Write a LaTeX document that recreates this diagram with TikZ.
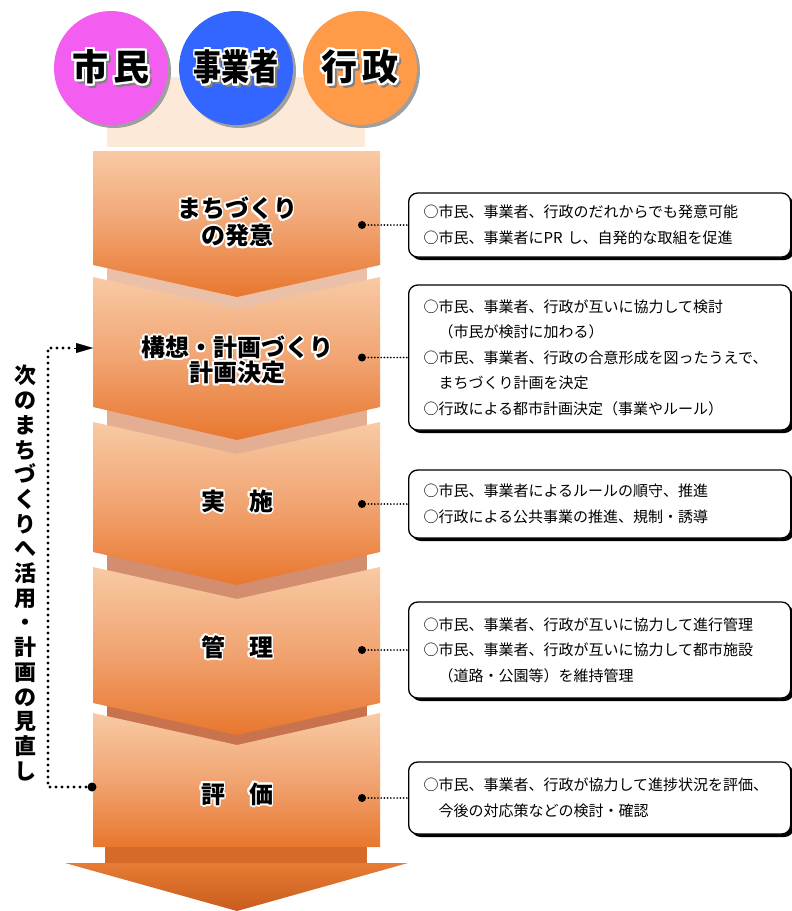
\documentclass[tikz,border=0pt]{standalone}
\usepackage{fontspec}
\newfontfamily\cjk{Noto Sans CJK JP}
\usepackage{contour}
\usetikzlibrary{shadows,arrows.meta}
\definecolor{bandpale}{HTML}{FCE9D8}
\definecolor{blocktop}{HTML}{F8CAA4}
\definecolor{blockmid}{HTML}{F1A472}
\definecolor{blockbot}{HTML}{E8772E}
\definecolor{gapA}{HTML}{EBC0A8}
\definecolor{gapB}{HTML}{E3AE92}
\definecolor{gapC}{HTML}{D28E6E}
\definecolor{gapD}{HTML}{C9734E}
\definecolor{cpink}{HTML}{F35EF0}
\definecolor{cblue}{HTML}{3366FF}
\definecolor{corange}{HTML}{FF9A48}
\definecolor{arrowtop}{HTML}{E67C34}
\definecolor{arrowbot}{HTML}{C95C1C}
\definecolor{shaftc}{HTML}{D66A28}
\tikzset{
  chev/.style={top color=blocktop, bottom color=blockbot, middle color=blockmid},
  roundc/.style={circle, minimum size=114pt, inner sep=0pt},
  ctext/.style={font=\cjk\bfseries\fontsize{36}{40}\selectfont, inner sep=0pt},
  btext/.style={font=\cjk\bfseries\fontsize{24}{27}\selectfont, align=center, inner sep=0pt},
  infobox/.style={draw=black, line width=1.3pt, rounded corners=9pt, fill=white,
    anchor=west, minimum width=382pt, text width=352pt, align=left, inner xsep=15pt,
    font=\cjk\fontsize{15}{25.5}\selectfont,
    drop shadow={shadow xshift=3pt, shadow yshift=-3pt, fill=black, opacity=1}},
  pdot/.style={circle, fill=black, minimum size=8pt, inner sep=0pt},
  fine/.style={line width=1.9pt, dash pattern=on 0pt off 3.2pt, line cap=round},
  loopline/.style={line width=3.3pt, dash pattern=on 0pt off 6pt, line cap=round}
}
\begin{document}
\begin{tikzpicture}[x=1pt,y=-1pt]
\useasboundingbox (0,0) rectangle (792,911);
% pale band behind circles
\fill[bandpale] (107,77) rectangle (365,147);
% circles
\foreach \cx/\cc/\nm in {111/cpink/cA,236/cblue/cB,360/corange/cC}{
  \fill[gray!75] (\cx+3,71) circle (57);
  \node[roundc, fill=\cc] (\nm) at (\cx,68) {};
}
\node[ctext, text=gray] (sA) at (113.5,70.5) {\contour{gray}{市\kern5pt 民}};
\node[ctext] (lA) at (111,68) {\contourlength{2.4pt}\contour{white}{市\kern5pt 民}};
\node[ctext, text=gray, xscale=0.78] (sB) at (238.5,70.5) {\contour{gray}{事業者}};
\node[ctext, xscale=0.78] (lB) at (236,68) {\contourlength{2.4pt}\contour{white}{事業者}};
\node[ctext, text=gray] (sC) at (362.5,70.5) {\contour{gray}{行\kern5pt 政}};
\node[ctext] (lC) at (360,68) {\contourlength{2.4pt}\contour{white}{行\kern5pt 政}};
% gaps
\fill[gapA] (107,262) rectangle (367,312);
\fill[gapB] (107,404) rectangle (367,457);
\fill[gapC] (107,549) rectangle (367,602);
\fill[gapD] (107,700) rectangle (367,748);
% arrow
\fill[shaftc] (105,840) rectangle (367,866);
\path[top color=arrowtop, bottom color=arrowbot] (65,863) -- (408,863) -- (237,911) -- cycle;
% blocks
\path[chev] (93,151) -- (380,151) -- (380,265) -- (237,297) -- (93,265) -- cycle;
\path[chev] (93,277) -- (237,309) -- (380,277) -- (380,407) -- (237,440) -- (93,407) -- cycle;
\path[chev] (93,422) -- (237,454) -- (380,422) -- (380,552) -- (237,585) -- (93,552) -- cycle;
\path[chev] (93,567) -- (237,599) -- (380,567) -- (380,703) -- (237,735) -- (93,703) -- cycle;
\path[chev] (93,713) -- (237,745) -- (380,713) -- (380,847) -- (93,847) -- cycle;
% block labels
\contourlength{1.8pt}
\node[btext] (t1) at (237,223) {\contour{white}{まちづくり}\\\contour{white}{の発意}};
\node[btext, font=\cjk\bfseries\fontsize{24}{25}\selectfont] (t2) at (237,361) {\contour{white}{構想・計画づくり}\\\contour{white}{計画決定}};
\node[btext] (t3) at (237,502) {\contour{white}{実　施}};
\node[btext] (t4) at (237,648) {\contour{white}{管　理}};
\node[btext] (t5) at (237,795) {\contour{white}{評　価}};
% info boxes
\node[infobox, minimum height=64pt] (b1) at (408,225) {○市民、事業者、行政のだれからでも発意可能\\○市民、事業者にPR し、自発的な取組を促進};
\node[infobox, minimum height=145pt] (b2) at (408,357.5) {○市民、事業者、行政が互いに協力して検討\\　（市民が検討に加わる）\\○市民、事業者、行政の合意形成を図ったうえで、\\　まちづくり計画を決定\\○行政による都市計画決定（事業やルール）};
\node[infobox, minimum height=68pt] (b3) at (408,504) {○市民、事業者によるルールの順守、推進\\○行政による公共事業の推進、規制・誘導};
\node[infobox, minimum height=96pt] (b4) at (408,650) {○市民、事業者、行政が互いに協力して進行管理\\○市民、事業者、行政が互いに協力して都市施設\\　（道路・公園等）を維持管理};
\node[infobox, minimum height=72pt] (b5) at (408,798) {○市民、事業者、行政が協力して進捗状況を評価、\\　今後の対応策などの検討・確認};
% dots and connectors
\node[pdot] (d1) at (362,225) {};
\node[pdot] (d2) at (362,357.5) {};
\node[pdot] (d3) at (362,504) {};
\node[pdot] (d4) at (362,650) {};
\node[pdot] (d5) at (362,798) {};
\foreach \i in {1,...,5}{ \draw[fine] (d\i.center) -- (b\i.west); }
% loop back
\node[pdot, minimum size=9pt] (dl) at (92,787) {};
\coordinate (lb) at (48,787);
\coordinate (lt) at (48,348);
\coordinate (la) at (93,348);
\draw[loopline] (dl.center) -- (lb) -- (lt) -- (74,348);
\draw[-{Triangle[length=17pt,width=10pt]}, line width=0.1pt] (74,348) -- (la);
\node[font=\cjk\bfseries\fontsize{22}{24.7}\selectfont, align=center, inner sep=0pt] (vt) at (25,573)
  {次\\の\\ま\\ち\\づ\\く\\り\\へ\\活\\用\\・\\計\\画\\の\\見\\直\\し};
\end{tikzpicture}
\end{document}
